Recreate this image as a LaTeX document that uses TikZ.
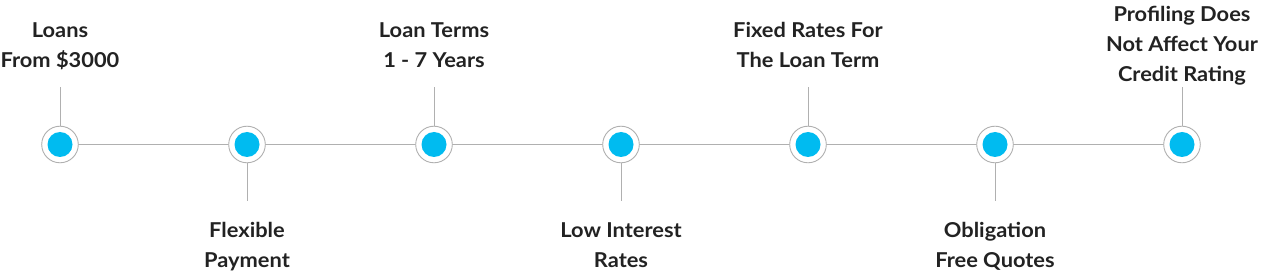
\documentclass[tikz,border=0pt]{standalone}
\usepackage{fontspec}
\setmainfont{Lato}[FakeStretch=1.065]
\usepackage{tikz}
\usetikzlibrary{positioning, calc}
\definecolor{dotblue}{RGB}{0,187,240}
\definecolor{linegray}{RGB}{176,176,176}
\definecolor{textdark}{RGB}{34,34,34}

\begin{document}
\begin{tikzpicture}[x=1pt, y=1pt,
    ring/.style={circle, draw=linegray, line width=0.9pt, fill=white, minimum size=36.6pt, inner sep=0pt},
    dot/.style={circle, fill=dotblue, minimum size=25pt, inner sep=0pt},
    stub/.style={draw=linegray, line width=1pt},
    lbl/.style={align=center, anchor=base, text=textdark, inner sep=0pt,
        font=\fontsize{20.5}{30}\selectfont\bfseries}]
    \useasboundingbox (0,0) rectangle (1274,273);

    % Main line
    \coordinate (a) at (60,128.5);
    \coordinate (b) at (1182,128.5);
    \draw[stub] (a) -- (b);

    % Rings and dots
    \foreach \i in {1,...,7} {
        \node[ring] (d\i) at ({60+187*(\i-1)},128.5) {};
        \node[dot] at (d\i) {};
    }

    % Stubs, up for odd and down for even
    \foreach \i in {1,3,5,7} \draw[stub] (d\i.north) -- ++(0,38.5) coordinate (s\i);
    \foreach \i in {2,4,6} \draw[stub] (d\i.south) -- ++(0,-37.5) coordinate (s\i);

    % Labels (base sits on the last line)
    \node[lbl] (l1) at ($(s1)+(0,19.7)$) {Loans\\From \$3000};
    \node[lbl] (l2) at ($(s2)+(0,-66.7)$) {Flexible\\Payment};
    \node[lbl] (l3) at ($(s3)+(0,19.7)$) {Loan Terms\\1 - 7 Years};
    \node[lbl] (l4) at ($(s4)+(0,-66.7)$) {Low Interest\\Rates};
    \node[lbl] (l5) at ($(s5)+(0,19.7)$) {Fixed Rates For\\The Loan Term};
    \node[lbl] (l6) at ($(s6)+(0,-66.7)$) {Obligation\\Free Quotes};
    \node[lbl] (l7) at ($(s7)+(0,5.7)$) {Profiling Does\\Not Affect Your\\Credit Rating};
\end{tikzpicture}
\end{document}
